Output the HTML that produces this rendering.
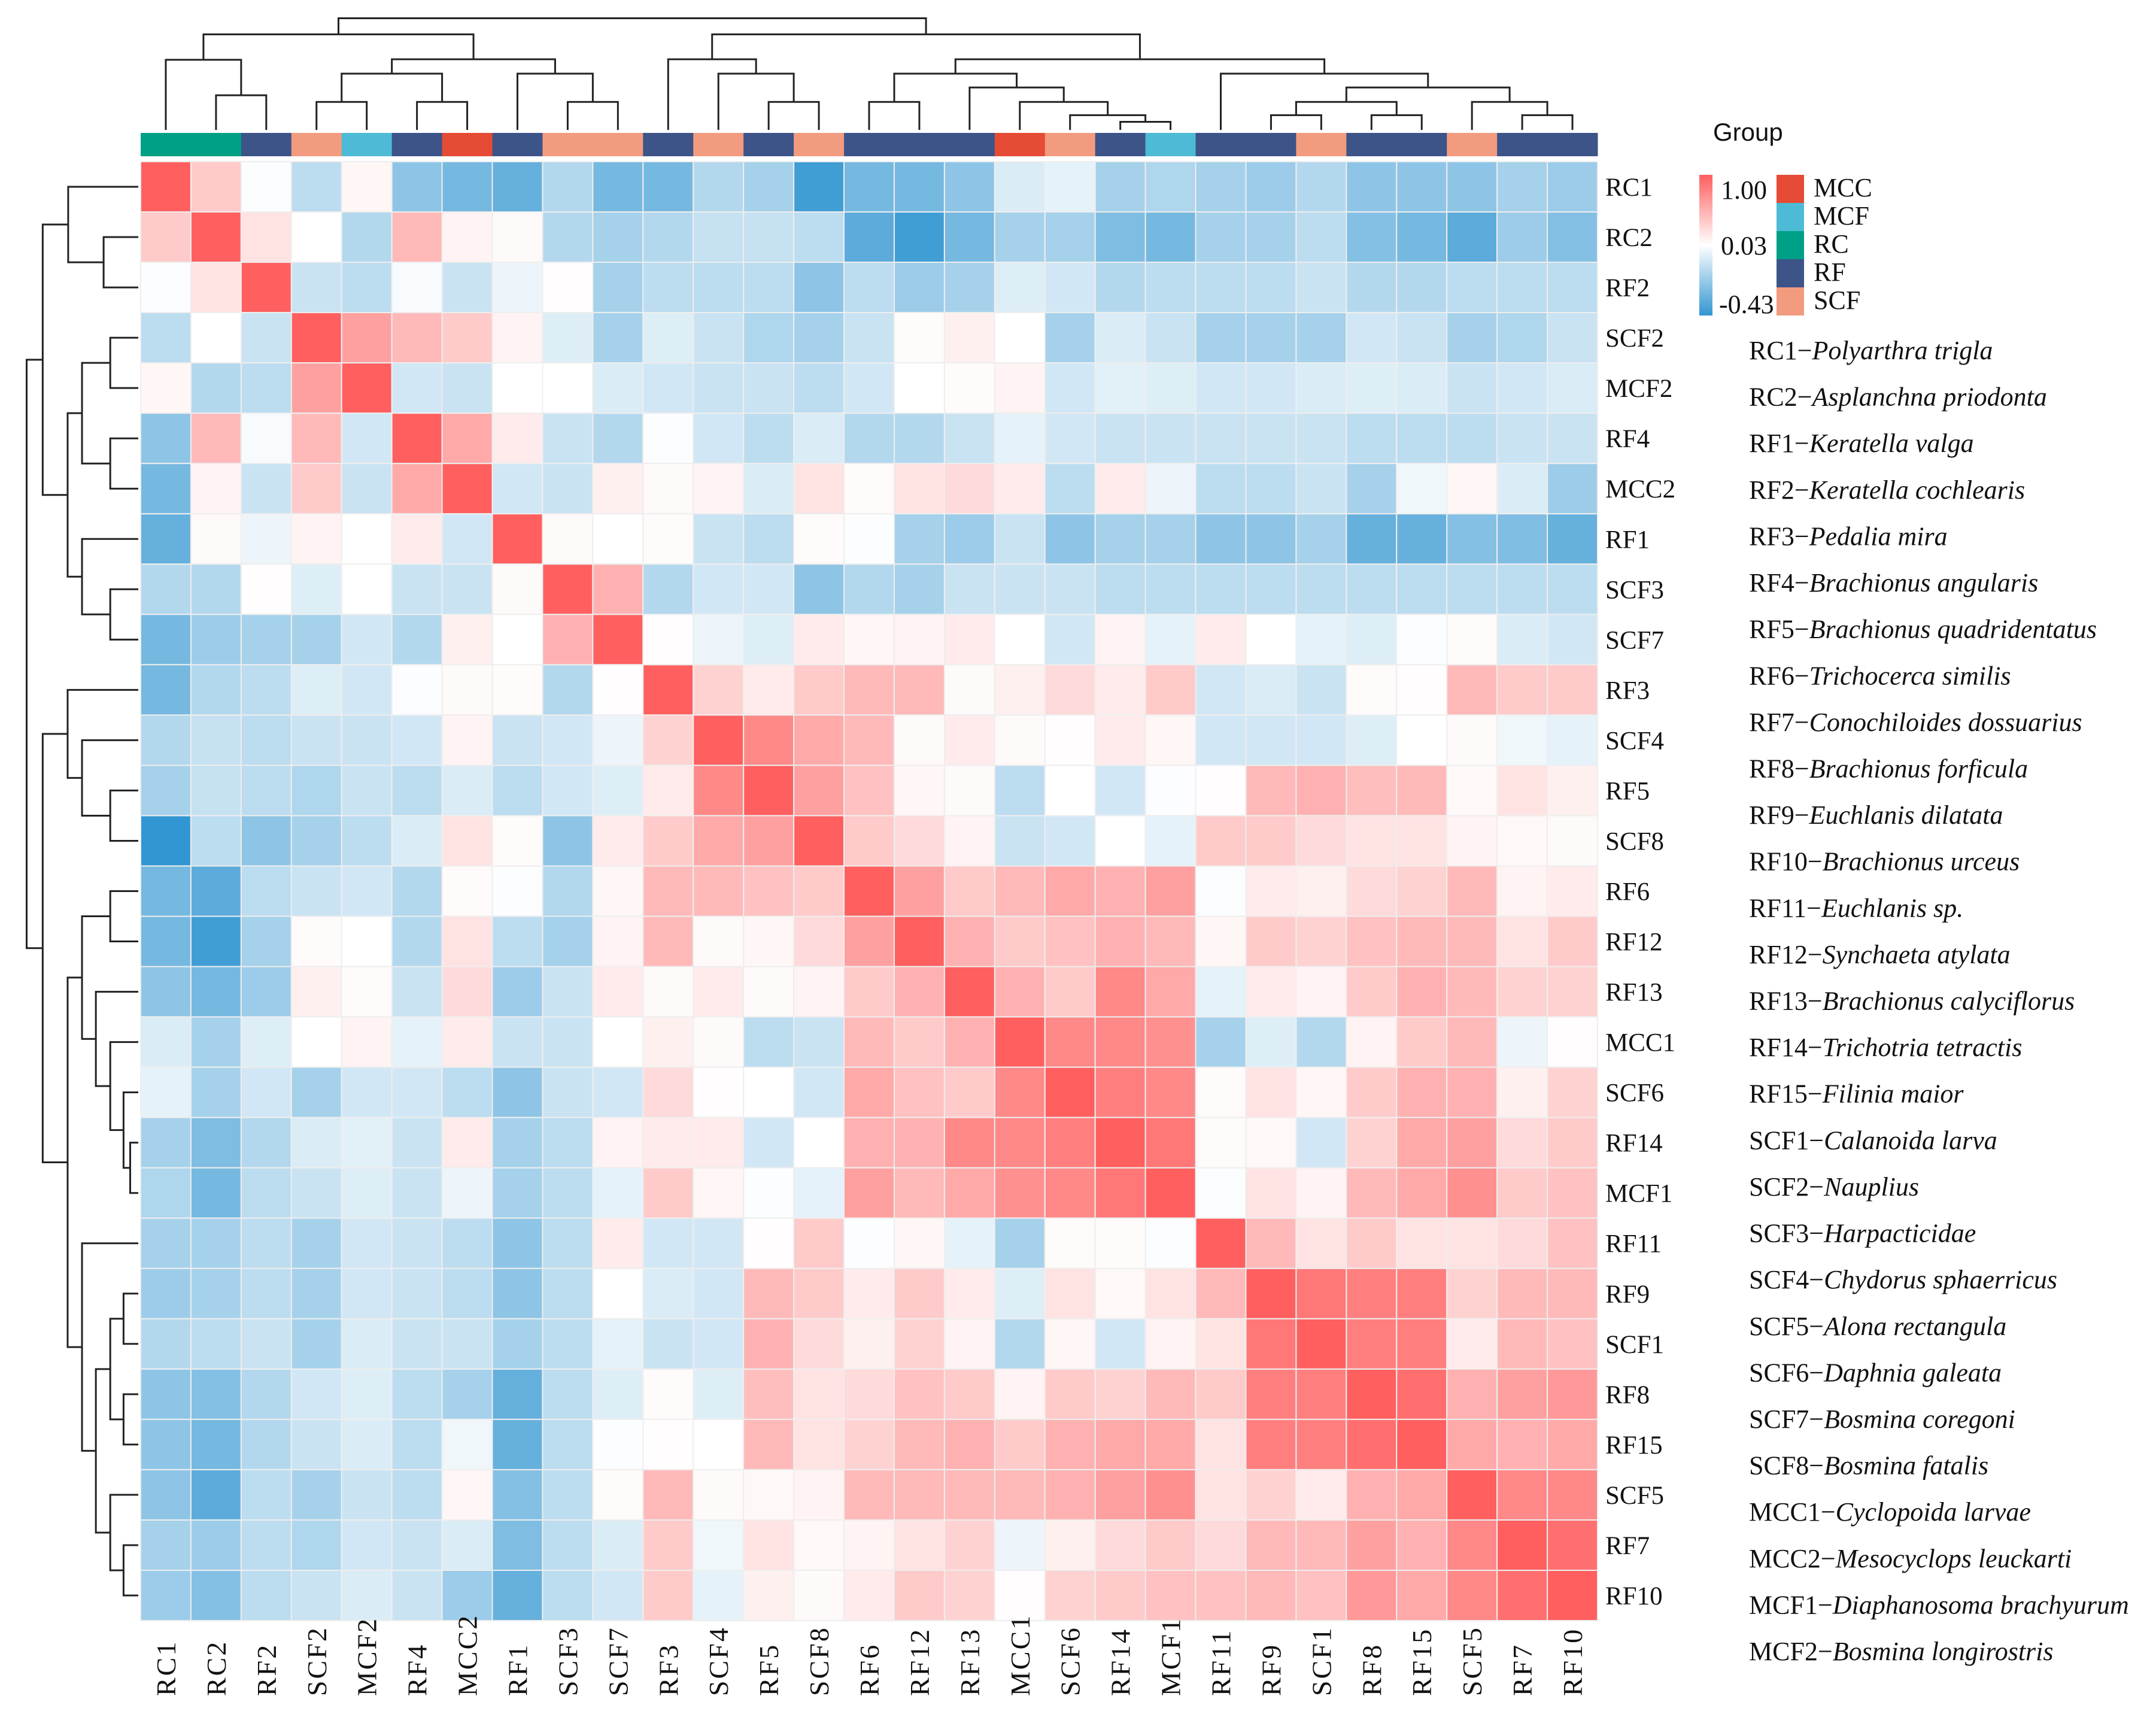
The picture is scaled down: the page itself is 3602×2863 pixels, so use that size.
<!DOCTYPE html>
<html><head><meta charset="utf-8">
<style>
html,body{margin:0;padding:0;background:#fff;}
svg{display:block;}
.serif{font-family:"Liberation Serif",serif;}
.sans{font-family:"Liberation Sans",sans-serif;}
</style></head>
<body>
<svg id="chart" width="3602" height="2863" viewBox="0 0 3602 2863" xmlns="http://www.w3.org/2000/svg">
<rect width="3602" height="2863" fill="#fff"/>
<g id="cells"></g>
<g id="annot"></g>
<g id="dendTop" stroke="#222" stroke-width="3" fill="none"></g>
<g id="dendLeft" stroke="#222" stroke-width="3" fill="none"></g>
<g id="rowLabels" class="serif" font-size="43" fill="#111"></g>
<g id="colLabels" class="serif" font-size="46" fill="#111" letter-spacing="3"></g>
<g id="legend">
  <text class="sans" x="2862" y="235" font-size="42" fill="#111">Group</text>
  <defs><linearGradient id="cg" x1="0" y1="0" x2="0" y2="1">
    <stop offset="0" stop-color="rgb(255,95,95)"/>
    <stop offset="0.5" stop-color="#ffffff"/>
    <stop offset="1" stop-color="rgb(50,150,210)"/>
  </linearGradient></defs>
  <rect x="2839" y="292" width="22" height="235" fill="url(#cg)"/>
  <text class="serif" x="2875" y="332" font-size="44" fill="#111">1.00</text>
  <text class="serif" x="2875" y="425" font-size="44" fill="#111">0.03</text>
  <text class="serif" x="2872" y="523" font-size="44" fill="#111">-0.43</text>
  <g id="groupLegend"></g>
  <g id="species" class="serif" font-size="44" fill="#111"></g>
</g>
</svg>
<script>
const labels = ["RC1","RC2","RF2","SCF2","MCF2","RF4","MCC2","RF1","SCF3","SCF7","RF3","SCF4","RF5","SCF8","RF6","RF12","RF13","MCC1","SCF6","RF14","MCF1","RF11","RF9","SCF1","RF8","RF15","SCF5","RF7","RF10"];
const groups = ["RC","RC","RF","SCF","MCF","RF","MCC","RF","SCF","SCF","RF","SCF","RF","SCF","RF","RF","RF","MCC","SCF","RF","MCF","RF","RF","SCF","RF","RF","SCF","RF","RF"];
const groupNames = ["MCC","MCF","RC","RF","SCF"];
const groupColors = ["#E64B35","#4DBBD5","#00A087","#3C5488","#F39B7F"];
const scaleMin = -0.43, scaleMid = 0.03, scaleMax = 1.0;
const corr = [
[1,.35,.02,-.15,.08,-.25,-.3,-.33,-.17,-.3,-.3,-.17,-.2,-.4,-.3,-.3,-.25,-.08,-.05,-.2,-.18,-.2,-.22,-.17,-.25,-.25,-.25,-.2,-.22],
[.35,1,.2,.03,-.17,.45,.1,.06,-.17,-.2,-.17,-.13,-.13,-.15,-.35,-.4,-.3,-.2,-.2,-.28,-.3,-.2,-.2,-.15,-.27,-.3,-.35,-.22,-.27],
[.02,.2,1,-.12,-.15,0,-.12,-.03,.04,-.2,-.15,-.15,-.15,-.25,-.15,-.22,-.2,-.07,-.1,-.17,-.15,-.15,-.15,-.12,-.17,-.17,-.15,-.15,-.15],
[-.15,.03,-.12,1,.6,.45,.35,.1,-.07,-.2,-.07,-.12,-.18,-.2,-.12,.05,.12,.03,-.2,-.08,-.12,-.2,-.2,-.2,-.1,-.12,-.2,-.18,-.12],
[.08,-.17,-.15,.6,1,-.1,-.12,.03,.03,-.08,-.1,-.12,-.12,-.15,-.1,.03,.05,.1,-.1,-.06,-.07,-.1,-.1,-.08,-.07,-.08,-.12,-.1,-.08],
[-.25,.45,0,.45,-.1,1,.55,.15,-.12,-.17,.02,-.1,-.15,-.08,-.17,-.17,-.12,-.05,-.1,-.12,-.12,-.12,-.12,-.12,-.15,-.15,-.15,-.12,-.12],
[-.3,.1,-.12,.35,-.12,.55,1,-.1,-.12,.12,.06,.1,-.08,.2,.05,.2,.25,.15,-.15,.15,-.03,-.15,-.15,-.12,-.2,-.02,.08,-.08,-.22],
[-.33,.06,-.03,.1,.03,.15,-.1,1,.06,.03,.05,-.12,-.15,.05,.02,-.2,-.22,-.12,-.25,-.2,-.2,-.25,-.25,-.2,-.33,-.33,-.27,-.28,-.33],
[-.17,-.17,.04,-.07,.03,-.12,-.12,.06,1,.5,-.17,-.1,-.1,-.25,-.17,-.2,-.12,-.12,-.12,-.15,-.15,-.15,-.15,-.15,-.15,-.15,-.15,-.15,-.15],
[-.3,-.22,-.2,-.2,-.1,-.17,.12,.03,.5,1,.04,-.03,-.07,.15,.08,.1,.15,.03,-.1,.1,-.05,.15,.03,-.05,-.07,.02,.05,-.08,-.1],
[-.3,-.17,-.15,-.07,-.1,.02,.06,.05,-.17,.04,1,.3,.15,.35,.45,.45,.06,.12,.25,.15,.35,-.1,-.08,-.12,.05,.04,.45,.35,.35],
[-.17,-.13,-.15,-.12,-.12,-.1,.1,-.12,-.1,-.03,.3,1,.75,.55,.45,.06,.15,.06,.04,.15,.08,-.1,-.1,-.1,-.07,.03,.06,-.02,-.05],
[-.2,-.13,-.15,-.18,-.12,-.15,-.08,-.15,-.1,-.07,.15,.75,1,.6,.4,.08,.06,-.15,.03,-.1,.02,.04,.45,.5,.42,.45,.07,.2,.12],
[-.43,-.15,-.25,-.2,-.15,-.08,.2,.05,-.25,.15,.35,.55,.6,1,.35,.25,.1,-.12,-.1,.03,-.05,.35,.35,.25,.2,.2,.1,.07,.06],
[-.3,-.35,-.15,-.12,-.1,-.17,.05,.02,-.17,.08,.45,.45,.4,.35,1,.6,.35,.45,.55,.5,.6,.02,.15,.12,.25,.3,.45,.1,.15],
[-.3,-.4,-.2,.05,.03,-.17,.2,-.15,-.2,.1,.45,.06,.08,.25,.6,1,.5,.35,.4,.5,.45,.08,.35,.3,.4,.45,.45,.2,.35],
[-.25,-.3,-.22,.12,.05,-.12,.25,-.22,-.12,.15,.06,.15,.06,.1,.35,.5,1,.5,.35,.75,.55,-.05,.15,.1,.35,.5,.45,.3,.3],
[-.08,-.2,-.07,.03,.1,-.05,.15,-.12,-.12,.03,.12,.06,-.15,-.12,.45,.35,.5,1,.75,.75,.7,-.2,-.07,-.17,.1,.35,.45,-.03,.04],
[-.05,-.2,-.1,-.2,-.1,-.1,-.15,-.25,-.12,-.1,.25,.04,.03,-.1,.55,.4,.35,.75,1,.8,.75,.05,.2,.08,.35,.5,.5,.12,.3],
[-.2,-.28,-.17,-.08,-.06,-.12,.15,-.2,-.15,.1,.15,.15,-.1,.03,.5,.5,.75,.75,.8,1,.85,.05,.07,-.1,.3,.55,.6,.25,.35],
[-.18,-.3,-.15,-.12,-.07,-.12,-.03,-.2,-.15,-.05,.35,.08,.02,-.05,.6,.45,.55,.7,.75,.85,1,.02,.2,.1,.45,.55,.7,.35,.4],
[-.2,-.2,-.15,-.2,-.1,-.12,-.15,-.25,-.15,.15,-.1,-.1,.04,.35,.02,.08,-.05,-.2,.05,.05,.02,1,.45,.2,.35,.2,.2,.25,.4],
[-.22,-.2,-.15,-.2,-.1,-.12,-.15,-.25,-.15,.03,-.08,-.1,.45,.35,.15,.35,.15,-.07,.2,.07,.2,.45,1,.85,.8,.8,.3,.45,.45],
[-.17,-.15,-.12,-.2,-.08,-.12,-.12,-.2,-.15,-.05,-.12,-.1,.5,.25,.12,.3,.1,-.17,.08,-.1,.1,.2,.85,1,.8,.8,.15,.45,.4],
[-.25,-.27,-.17,-.1,-.07,-.15,-.2,-.33,-.15,-.07,.05,-.07,.42,.2,.25,.4,.35,.1,.35,.3,.45,.35,.8,.8,1,.9,.5,.6,.65],
[-.25,-.3,-.17,-.12,-.08,-.15,-.02,-.33,-.15,.02,.04,.03,.45,.2,.3,.45,.5,.35,.5,.55,.55,.2,.8,.8,.9,1,.55,.5,.55],
[-.25,-.35,-.15,-.2,-.12,-.15,.08,-.27,-.15,.05,.45,.06,.07,.1,.45,.45,.45,.45,.5,.6,.7,.2,.3,.15,.5,.55,1,.75,.75],
[-.2,-.22,-.15,-.18,-.1,-.12,-.08,-.28,-.15,-.08,.35,-.02,.2,.07,.1,.2,.3,-.03,.12,.25,.35,.25,.45,.45,.6,.5,.75,1,.9],
[-.22,-.27,-.15,-.12,-.08,-.12,-.22,-.33,-.15,-.1,.35,-.05,.12,.06,.15,.35,.3,.04,.3,.35,.4,.4,.45,.4,.65,.55,.75,.9,1]
];
const merges = [
[1,1,2,2,172],[0,0,1,2,108],[3,3,4,4,184],[5,5,6,6,184],[3,4,5,6,133],[8,8,9,9,184],[7,7,8,9,133],[3,6,7,9,107],[0,2,3,9,62],
[12,12,13,13,184],[11,11,12,13,133],[10,10,11,13,107],[14,14,15,15,184],[19,19,20,20,220],[18,18,19,20,208],[17,17,18,20,184],[16,16,17,20,158],[14,15,16,20,133],
[22,22,23,23,208],[24,24,25,25,208],[22,23,24,25,184],[27,27,28,28,208],[26,26,27,28,184],[22,25,26,28,158],[21,21,22,28,133],[14,20,21,28,107],[10,13,14,28,62],[0,9,10,28,33]
];
const speciesCodes = ["RC1","RC2","RF1","RF2","RF3","RF4","RF5","RF6","RF7","RF8","RF9","RF10","RF11","RF12","RF13","RF14","RF15","SCF1","SCF2","SCF3","SCF4","SCF5","SCF6","SCF7","SCF8","MCC1","MCC2","MCF1","MCF2"];
const speciesNames = ["Polyarthra trigla","Asplanchna priodonta","Keratella valga","Keratella cochlearis","Pedalia mira","Brachionus angularis","Brachionus quadridentatus","Trichocerca similis","Conochiloides dossuarius","Brachionus forficula","Euchlanis dilatata","Brachionus urceus","Euchlanis sp.","Synchaeta atylata","Brachionus calyciflorus","Trichotria tetractis","Filinia maior","Calanoida larva","Nauplius","Harpacticidae","Chydorus sphaerricus","Alona rectangula","Daphnia galeata","Bosmina coregoni","Bosmina fatalis","Cyclopoida larvae","Mesocyclops leuckarti","Diaphanosoma brachyurum","Bosmina longirostris"];

const NS="http://www.w3.org/2000/svg";
const X0=235, X1=2669, Y0=270, Y1=2707, N=labels.length;
const cw=(X1-X0)/N, ch=(Y1-Y0)/N;
const xc=i=>X0+cw*(i+0.5), yc=i=>Y0+ch*(i+0.5);
function mk(tag,attrs,parent){const e=document.createElementNS(NS,tag);for(const k in attrs)e.setAttribute(k,attrs[k]);parent.appendChild(e);return e;}
function color(v){
  let r,g,b,t;
  if(v>=scaleMid){t=Math.min(1,(v-scaleMid)/(scaleMax-scaleMid));r=255;g=255+(95-255)*t;b=255+(95-255)*t;}
  else{t=Math.pow(Math.min(1,(scaleMid-v)/(scaleMid-scaleMin)),1.2);r=255+(50-255)*t;g=255+(150-255)*t;b=255+(210-255)*t;}
  return `rgb(${r|0},${g|0},${b|0})`;
}
const cells=document.getElementById('cells');
for(let i=0;i<N;i++)for(let j=0;j<N;j++){
  const c=mk('rect',{x:X0+cw*j,y:Y0+ch*i,width:cw,height:ch,fill:color(corr[i][j]),stroke:'#eeeeee','stroke-width':2},cells);
  
  
}
const annot=document.getElementById('annot');
for(let j=0;j<N;j++){
  const a=mk('rect',{x:X0+cw*j,y:222,width:cw+0.5,height:39,fill:groupColors[groupNames.indexOf(groups[j])]},annot);
  
  
}
const LEAF_Y=217, LEAF_X=231;
const posOf={};
for(let i=0;i<N;i++)posOf[i+'-'+i]={p:i,leaf:true,h:0};
function hY(h){return h*0.925;}
const dT=document.getElementById('dendTop'), dL=document.getElementById('dendLeft');
for(const m of merges){
  const A=posOf[m[0]+'-'+m[1]], B=posOf[m[2]+'-'+m[3]];
  const y=hY(m[4]);
  const ya=A.leaf?LEAF_Y:hY(A.h), yb=B.leaf?LEAF_Y:hY(B.h);
  const xa=X0+cw*(A.p+0.5), xb=X0+cw*(B.p+0.5);
  const p1=mk('path',{d:`M${xa},${ya}V${y}H${xb}V${yb}`},dT);
  
  
  const da=LEAF_Y-ya, db=LEAF_Y-yb, d=LEAF_Y-y;
  const ra=Y0+ch*(A.p+0.5), rb=Y0+ch*(B.p+0.5);
  const p2=mk('path',{d:`M${LEAF_X-da},${ra}H${LEAF_X-d}V${rb}H${LEAF_X-db}`},dL);
  
  
  posOf[m[0]+'-'+m[3]]={p:(A.p+B.p)/2,h:m[4],leaf:false};
}
const rl=document.getElementById('rowLabels'), cl=document.getElementById('colLabels');
for(let i=0;i<N;i++){
  const t=mk('text',{x:2682,y:yc(i)+15},rl);t.textContent=labels[i];
  
  
  const x=xc(i)+16;
  const c=mk('text',{x:x,y:2833,transform:`rotate(-90 ${x} 2833)`},cl);c.textContent=labels[i];
  
  
}
const gl=document.getElementById('groupLegend');
for(let k=0;k<groupNames.length;k++){
  const s=mk('rect',{x:2968,y:292+47*k,width:46,height:47,fill:groupColors[k]},gl);
  
  
  const t=mk('text',{x:3030,y:292+47*k+36,'font-size':44,'class':'serif',fill:'#111'},gl);t.textContent=groupNames[k];
  
  
}
const sp=document.getElementById('species');
const sStep=(2773-600)/(speciesCodes.length-1);
for(let k=0;k<speciesCodes.length;k++){
  const t=mk('text',{x:2922,y:600+sStep*k},sp);
  
  
  const a=document.createElementNS(NS,'tspan');a.textContent=speciesCodes[k]+'\u2212';t.appendChild(a);
  const b=document.createElementNS(NS,'tspan');b.setAttribute('font-style','italic');b.textContent=speciesNames[k];t.appendChild(b);
}
</script>
</body></html>
